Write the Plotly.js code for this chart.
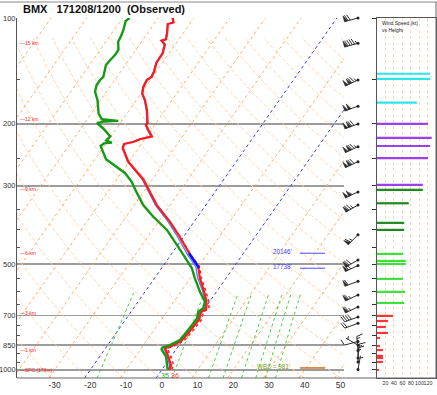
<!DOCTYPE html>
<html><head><meta charset="utf-8">
<script src="https://cdn.plot.ly/plotly-3.0.1.min.js"></script>
<style>html,body{margin:0;padding:0;background:#fff}#chart{width:437px;height:395px}</style>
</head><body><div id="chart"></div>
<script>
// ---------------- DATA ----------------
const presT = [998, 973, 920, 868, 855, 826, 787, 745, 718, 683, 672, 653, 632, 592, 549, 509, 471, 413, 379, 340, 305, 288, 256, 234, 228, 225, 221, 217, 208, 201, 199, 182, 171, 164, 157, 150, 147, 142, 134, 126, 119, 116, 115, 110, 104, 103, 100];
const tempC = [2.0, 1.8, -0.6, -3.3, -1.9, -0.2, 0.2, 0.5, 0.6, -0.5, 0.5, -0.2, -1.3, -4.0, -7.3, -10.0, -14.6, -21.8, -26.8, -33.7, -39.4, -42.4, -50.2, -54.4, -54.8, -52.7, -51.3, -48.5, -50.8, -52.5, -52.3, -55.2, -57.6, -59.6, -60.6, -61.0, -60.3, -60.6, -61.7, -61.8, -62.9, -64.6, -63.6, -64.6, -66.1, -64.8, -65.9];
const wetbulbC = [1.8, 1.4, -0.9, -3.6, -2.2, -0.4, 0.0, 0.3, 0.4, -0.8, 0.1, -0.5, -1.6, -4.4, -7.9, -10.7, -15.3, -22.4, -27.3, -34.1, -39.7, -42.7, -50.4, -54.6, -55.0, -52.9, -51.6, -48.8, -51.1, -52.7, -52.6, -55.4, -57.8, -59.8, -60.8, -61.2, -60.5, -60.8, -61.9, -62.0, -63.1, -64.8, -63.8, -64.8, -66.3, -65.0, -66.1];
const presTv = [998, 973, 920, 868, 855, 826, 787, 745, 718, 683, 672, 653, 632, 592, 549, 509, 471, 413];
const virtTC = [2.7, 2.5, 0.1, -2.7, -1.3, 0.5, 0.9, 1.2, 1.3, 0.2, 1.2, 0.5, -0.7, -3.5, -6.9, -9.7, -14.4, -21.7];
const presTd = [998, 978, 917, 874, 863, 850, 822, 779, 738, 714, 683, 668, 640, 600, 549, 514, 471, 432, 400, 367, 340, 312, 292, 276, 262, 252, 242, 231, 227, 226, 223, 217, 206, 199, 197, 196, 194, 187, 171, 162, 155, 150, 147, 136, 132, 127, 123, 117, 112, 108, 102, 100];
const dwptC = [1.6, 0.9, -1.4, -4.1, -4.2, -2.6, -0.8, -0.5, -0.3, -0.2, -1.2, -0.5, -1.3, -4.6, -8.7, -11.5, -16.5, -21.4, -26.0, -32.4, -37.5, -42.0, -45.3, -48.8, -53.3, -56.9, -58.8, -61.0, -60.6, -58.5, -60.5, -60.2, -63.7, -66.5, -65.0, -61.0, -65.9, -67.9, -70.9, -73.2, -74.1, -74.1, -73.8, -75.4, -75.2, -74.8, -74.9, -76.5, -76.9, -77.4, -78.5, -78.0];

// dendritic growth zone and wet-bulb zero
const dgzPres = [466, 514];
const dgzFeet = [20146, 17738];
const wbzPres = 987;
const wbzFeet = 981;

// height markers
const kmLabels = ['SFC (178m)', '1 km', '3 km', '6 km', '9 km', '12 km', '15 km'];
const kmPres = [998, 877, 688, 465, 306, 194, 118];

// wind barbs
const barbP   = [997, 950, 925, 880, 850, 830, 737, 707, 662, 612, 560, 505, 487, 413, 340, 312, 256, 232, 200, 178, 150, 118, 100];
const barbDir = [10, 0, 5, 355, 300, 255, 250, 250, 245, 245, 250, 245, 240, 225, 240, 245, 245, 245, 250, 250, 245, 255, 255];
const barbKt  = [5, 15, 15, 15, 5, 10, 20, 40, 65, 65, 60, 70, 70, 65, 75, 105, 120, 125, 120, 100, 125, 95, 70];

// wind speed vs height panel
const spdPres = [1000, 949, 925, 912, 878, 855, 811, 785, 755, 726, 702, 645, 600, 551, 500, 490, 468, 400, 382, 336, 308, 298, 250, 231, 219, 200, 174, 149, 144];
const spdKt   = [5, 14, 14, 14, 14, 7, 7, 26, 21, 26, 38, 64, 66, 61, 68, 68, 61, 64, 64, 75, 108, 108, 120, 125, 129, 120, 94, 125, 125];

// background line families
const isotherms = [-110, -100, -90, -80, -70, -60, -50, -40, -30, -20, -10, 0, 10, 20, 30, 40, 50];
const blueIsotherms = [0, -20];
const thetas = [230, 240, 250, 260, 270, 280, 290, 300, 310, 320, 330, 340, 350, 360, 370, 380, 390, 400, 410, 420, 430, 440, 450, 460, 470, 480, 490, 500];
const mixRatios = [1, 5, 10, 13, 18, 23, 27, 32];

const majorP = [100, 200, 300, 500, 700, 850, 1000];
const minorP = [150, 250, 350, 400, 450, 550, 600, 650, 750, 800, 900, 950];
const allTickP = [100,150,200,250,300,350,400,450,500,550,600,650,700,750,800,850,900,950,1000];
const xTicks = [-30, -20, -10, 0, 10, 20, 30, 40, 50];
const spdTicks = [20, 40, 60, 80, 100, 120];

// ---------------- GEOMETRY ----------------
const W = 437, H = 395;
const px = x => x / W;
const py = y => 1 - y / H;
const P_BOT = 1054, P_TOP = 100;
const SKEW = 69;
const PX_PER_DEC = 360 / (Math.log10(P_BOT) - 2);
const skewX = (t, p) => t + SKEW * Math.log10(1000 / p);
const FONT = 'Liberation Sans, Arial, sans-serif';

const traces = [];
function addLines(xs, ys, line, extra) {
  traces.push(Object.assign({x: xs, y: ys, mode: 'lines', line: line, hoverinfo: 'skip', showlegend: false}, extra || {}));
}

// isotherms
(function () {
  const xo = [], yo = [], xb = [], yb = [];
  isotherms.forEach(t => {
    const blue = blueIsotherms.indexOf(t) >= 0;
    const X = blue ? xb : xo, Y = blue ? yb : yo;
    X.push(skewX(t, P_BOT), skewX(t, P_TOP), null);
    Y.push(P_BOT, P_TOP, null);
  });
  // dry adiabats
  const xd = [], yd = [];
  thetas.forEach(th => {
    for (let p = P_BOT; p >= P_TOP - 1; p -= 20) {
      const pp = Math.max(p, P_TOP);
      const t = th * Math.pow(pp / 1000, 0.2857) - 273.15;
      xd.push(skewX(t, pp)); yd.push(pp);
    }
    xd.push(null); yd.push(null);
  });
  addLines(xd, yd, {color: '#ffd3aa', width: 0.9, dash: '4px,2px'});
  addLines(xo, yo, {color: '#ffa552', width: 0.9, dash: 'dot'});
  addLines(xb, yb, {color: '#3b3bff', width: 1, dash: 'dot'});
  // mixing ratio lines
  const xm = [], ym = [];
  mixRatios.forEach(w => {
    for (let p = P_BOT; p >= 600; p -= 25) {
      const pp = Math.max(p, 600);
      const e = w * pp / (622 + w);
      const l = Math.log(e / 6.112);
      const td = 243.5 * l / (17.67 - l);
      xm.push(skewX(td, pp)); ym.push(pp);
    }
    xm.push(null); ym.push(null);
  });
  addLines(xm, ym, {color: '#2fcc2f', width: 0.9, dash: 'dot'});
})();

// profiles
addLines(presTv.map((p, i) => skewX(virtTC[i], p)), presTv, {color: '#ff2a2a', width: 1.6, dash: 'dot'});
addLines(presT.map((p, i) => skewX(wetbulbC[i], p)), presT, {color: '#4d7dff', width: 1.3});
addLines(presT.map((p, i) => skewX(tempC[i], p)), presT, {color: '#ff1a1a', width: 2.2});
addLines(presTd.map((p, i) => skewX(dwptC[i], p)), presTd, {color: '#169a16', width: 2.4});

// DGZ highlight on the temperature trace
function interpT(p) {
  for (let i = 0; i < presT.length - 1; i++) {
    const a = presT[i], b = presT[i + 1];
    if (p <= a && p >= b) {
      const f = (Math.log(a) - Math.log(p)) / (Math.log(a) - Math.log(b));
      return tempC[i] + f * (tempC[i + 1] - tempC[i]);
    }
  }
  return null;
}
(function () {
  const ps = [dgzPres[1]].concat(presT.filter(p => p < dgzPres[1] && p > dgzPres[0])).concat([dgzPres[0]]);
  addLines(ps.map(p => skewX(interpT(p), p)), ps, {color: '#1010ff', width: 2.6});
})();

// marker lines for DGZ / WBZ labels
dgzPres.forEach(p => addLines([38.7, 45.7], [p, p], {color: '#5a5aff', width: 1.1}));
addLines([38.7, 45.7], [wbzPres, wbzPres], {color: '#d2782a', width: 1.6});

// wind speed bars
function bandColor(p) {
  if (p > kmPres[2]) return '#ff3434';
  if (p > kmPres[3]) return '#3ee03e';
  if (p > kmPres[4]) return '#1e8a1e';
  if (p > kmPres[5]) return '#9b3ff0';
  return '#2ee6ea';
}
(function () {
  const groups = {};
  spdPres.forEach((p, i) => {
    const c = bandColor(p);
    if (!groups[c]) groups[c] = {x: [], y: []};
    groups[c].x.push(0, spdKt[i], null);
    groups[c].y.push(p, p, null);
  });
  Object.keys(groups).forEach(c => addLines(groups[c].x, groups[c].y, {color: c, width: 2.2}, {xaxis: 'x2', yaxis: 'y2'}));
})();

// wind barbs
(function () {
  const STX = 358, L = 14, FL = 6, GAP = 2.3, PW = 3;
  const lx = [], ly = [], fx = [], fy = [], dx = [], dy = [];
  barbP.forEach((p, i) => {
    const r = barbDir[i] * Math.PI / 180;
    const s = [Math.sin(r), Math.cos(r)];
    const c = [s[1], -s[0]];
    const P = (a, b) => [STX + a, p * Math.pow(10, -b / PX_PER_DEC)];
    const push = (arr, pt) => { arr[0].push(pt[0]); arr[1].push(pt[1]); };
    const L_ = [lx, ly], F_ = [fx, fy];
    push(L_, P(0, 0)); push(L_, P(L * s[0], L * s[1])); push(L_, [null, null]);
    let v = Math.round(barbKt[i] / 5) * 5;
    const n50 = Math.floor(v / 50); v -= n50 * 50;
    const n10 = Math.floor(v / 10); v -= n10 * 10;
    const n5 = v >= 5 ? 1 : 0;
    let pos = L;
    for (let k = 0; k < n50; k++) {
      push(F_, P(pos * s[0], pos * s[1]));
      push(F_, P(pos * s[0] + FL * c[0], pos * s[1] + FL * c[1]));
      push(F_, P((pos - PW) * s[0], (pos - PW) * s[1]));
      push(F_, P(pos * s[0], pos * s[1]));
      push(F_, [null, null]);
      pos -= PW + 0.7;
    }
    if (n50 === 0 && n10 === 0) pos -= GAP;
    for (let k = 0; k < n10; k++) {
      push(L_, P(pos * s[0], pos * s[1]));
      push(L_, P(pos * s[0] + FL * c[0] + 0.35 * FL * s[0], pos * s[1] + FL * c[1] + 0.35 * FL * s[1]));
      push(L_, [null, null]);
      pos -= GAP;
    }
    if (n5) {
      const h = FL / 2;
      push(L_, P(pos * s[0], pos * s[1]));
      push(L_, P(pos * s[0] + h * c[0] + 0.35 * h * s[0], pos * s[1] + h * c[1] + 0.35 * h * s[1]));
      push(L_, [null, null]);
    }
    dx.push(STX); dy.push(p);
  });
  addLines(lx, ly, {color: '#2a2a2a', width: 1}, {xaxis: 'x3', yaxis: 'y3'});
  traces.push({x: fx, y: fy, mode: 'lines', fill: 'toself', fillcolor: '#2a2a2a', line: {color: '#2a2a2a', width: 0.6}, xaxis: 'x3', yaxis: 'y3', hoverinfo: 'skip', showlegend: false});
  traces.push({x: dx, y: dy, mode: 'markers', marker: {color: '#222', size: 3}, xaxis: 'x3', yaxis: 'y3', hoverinfo: 'skip', showlegend: false});
})();

// ---------------- ANNOTATIONS ----------------
const annotations = [];
annotations.push({xref: 'paper', yref: 'paper', x: px(21), y: py(9), xanchor: 'left', yanchor: 'middle', showarrow: false,
  text: '<b>BMX\u00a0\u00a0\u00a0171208/1200\u00a0\u00a0(Observed)</b>', font: {family: FONT, size: 11, color: '#111'}});
// pressure labels on the left edge
majorP.forEach(p => annotations.push({xref: 'paper', yref: 'y', x: px(16.6), y: Math.log10(p), xanchor: 'right', yanchor: 'middle',
  showarrow: false, borderpad: 0, text: String(p), font: {family: FONT, size: 7.5, color: '#333'}}));
kmLabels.forEach((t, i) => annotations.push({xref: 'paper', yref: 'y', x: px(17.5), y: Math.log10(kmPres[i]), xanchor: 'left', yanchor: 'middle',
  showarrow: false, text: '\u2014' + t, font: {family: FONT, size: 5, color: '#ff2424'}}));
dgzPres.forEach((p, i) => annotations.push({xref: 'paper', yref: 'y', x: px(294), y: Math.log10(p), xanchor: 'right', yanchor: 'middle', yshift: 1.5,
  showarrow: false, text: dgzFeet[i] + "'", font: {family: FONT, size: 6.3, color: '#3a3aff'}}));
annotations.push({xref: 'paper', yref: 'y', x: px(292), y: Math.log10(wbzPres), xanchor: 'right', yanchor: 'middle', yshift: 1.5,
  showarrow: false, text: "WBZ = " + wbzFeet + "'", font: {family: FONT, size: 6.3, color: '#7c9a12'}});
const toF = c => Math.round(c * 9 / 5 + 32);
annotations.push({xref: 'x', yref: 'y', x: skewX(dwptC[0], presTd[0]), y: Math.log10(presTd[0]), xanchor: 'center', yanchor: 'middle', xshift: -3, yshift: -6,
  showarrow: false, text: String(toF(dwptC[0])), font: {family: FONT, size: 7, color: '#2aa22a'}});
annotations.push({xref: 'x', yref: 'y', x: skewX(tempC[0], presT[0]), y: Math.log10(presT[0]), xanchor: 'center', yanchor: 'middle', xshift: 6, yshift: -6,
  showarrow: false, text: String(toF(tempC[0])), font: {family: FONT, size: 7, color: '#ff3030'}});
annotations.push({xref: 'paper', yref: 'paper', x: px(380), y: py(23), xanchor: 'left', yanchor: 'middle', showarrow: false,
  text: 'Wind Speed (kt)', font: {family: FONT, size: 5, color: '#222'}});
annotations.push({xref: 'paper', yref: 'paper', x: px(380), y: py(30), xanchor: 'left', yanchor: 'middle', showarrow: false,
  text: 'vs Height', font: {family: FONT, size: 5, color: '#222'}});

// ---------------- LAYOUT ----------------
const yDomain = [py(378), py(18)];
const yRange = [Math.log10(P_BOT), 2];
const layout = {
  width: W, height: H, margin: {l: 0, r: 0, t: 0, b: 0},
  paper_bgcolor: '#fff', plot_bgcolor: 'rgba(0,0,0,0)', showlegend: false,
  font: {family: FONT, color: '#222'},
  xaxis: {domain: [px(17), px(344)], range: [-40.5, 51], anchor: 'y', tickvals: xTicks, ticktext: xTicks.map(String), ticks: '', showgrid: false,
    zeroline: false, showline: false, tickfont: {size: 8.5, color: '#333'}, tickangle: 0, fixedrange: true},
  yaxis: {domain: yDomain, type: 'log', range: yRange, anchor: 'x', tickvals: majorP, showticklabels: false,
    showgrid: true, gridcolor: '#9c9c9c', gridwidth: 1.6, showline: true, linecolor: '#555', linewidth: 1,
    ticks: '', zeroline: false,
    minor: {tickmode: 'array', tickvals: minorP, ticks: 'inside', ticklen: 3, tickcolor: '#555', showgrid: false}},
  xaxis2: {domain: [px(377), px(436)], range: [0, 139], anchor: 'y2', tickvals: spdTicks, ticktext: spdTicks.map(String), ticks: '', tickangle: 0,
    showgrid: true, gridcolor: '#ffcd9c', griddash: 'dot', gridwidth: 0.8, zeroline: false,
    showline: true, mirror: true, linecolor: '#555', linewidth: 1, tickfont: {size: 5.3, color: '#333'}},
  yaxis2: {domain: yDomain, type: 'log', range: yRange, anchor: 'x2', tickvals: allTickP, showticklabels: false,
    ticks: 'outside', ticklen: 4, tickcolor: '#333', showgrid: false, zeroline: false, showline: true, mirror: true,
    linecolor: '#555', linewidth: 1},
  xaxis3: {domain: [px(336), px(376)], range: [336, 376], anchor: 'y3', visible: false},
  yaxis3: {domain: [py(378), py(4)], type: 'log', range: [Math.log10(P_BOT), 2 - 14 / PX_PER_DEC], anchor: 'x3', visible: false},
  shapes: [
    {type: 'line', xref: 'paper', yref: 'paper', x0: 0, x1: 1, y0: py(2), y1: py(2), line: {color: '#8a8a8a', width: 1}},
    {type: 'line', xref: 'paper', yref: 'paper', x0: px(436), x1: px(436), y0: py(2), y1: py(378), line: {color: '#666', width: 1}},
    {type: 'line', xref: 'paper', yref: 'paper', x0: px(17), x1: px(436), y0: py(378), y1: py(378), line: {color: '#666', width: 1}}
  ],
  annotations: annotations
};

Plotly.newPlot('chart', traces, layout, {staticPlot: true, displayModeBar: false});
</script>
</body></html>
